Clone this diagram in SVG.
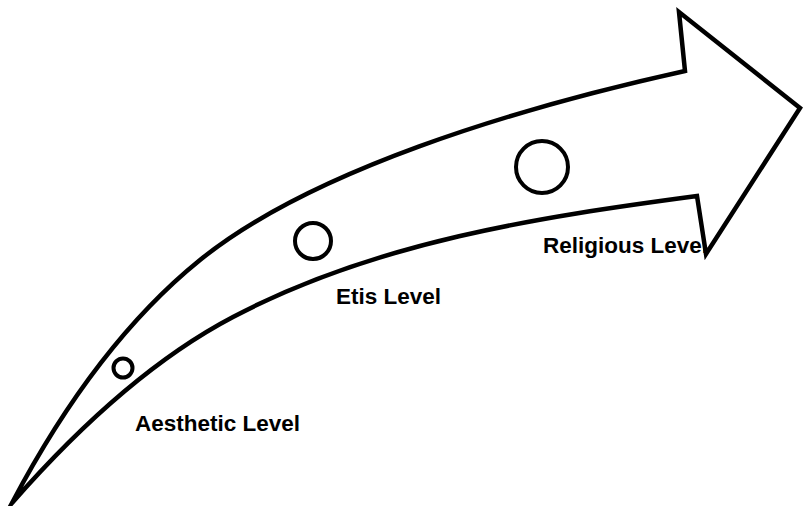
<svg xmlns="http://www.w3.org/2000/svg" width="804" height="506" viewBox="0 0 804 506">
  <style>
    .lbl { font-family: "Liberation Sans", Arial, sans-serif; font-weight: bold; font-size: 22.5px; fill: #000; }
    .shape { fill: #fff; stroke: #000; stroke-width: 4.5; stroke-linejoin: miter; stroke-miterlimit: 10; }
    .dot { fill: none; stroke: #000; stroke-width: 4; }
  </style>
  <rect width="804" height="506" fill="#fff"/>
  <g id="labels">
    <text class="lbl" x="135" y="431">Aesthetic Level</text>
    <text class="lbl" x="336" y="304">Etis Level</text>
    <text class="lbl" x="543" y="253">Religious Level</text>
  </g>
  <g id="arrow">
    <path class="shape" d="M12,503 C60,412 122,323 200,260 C310,171 513,109 685,71 L679,12 L800,108 L706,254 L697,196 C539,217 375,242 233,317 C149,361 76,430 12,503 Z"/>
  </g>
  <g id="aesthetic">
    <circle class="dot" cx="123" cy="368" r="9.5"/>
  </g>
  <g id="etis">
    <circle class="dot" cx="313" cy="241" r="18"/>
  </g>
  <g id="religious">
    <circle class="dot" cx="542" cy="167" r="26"/>
  </g>
</svg>
